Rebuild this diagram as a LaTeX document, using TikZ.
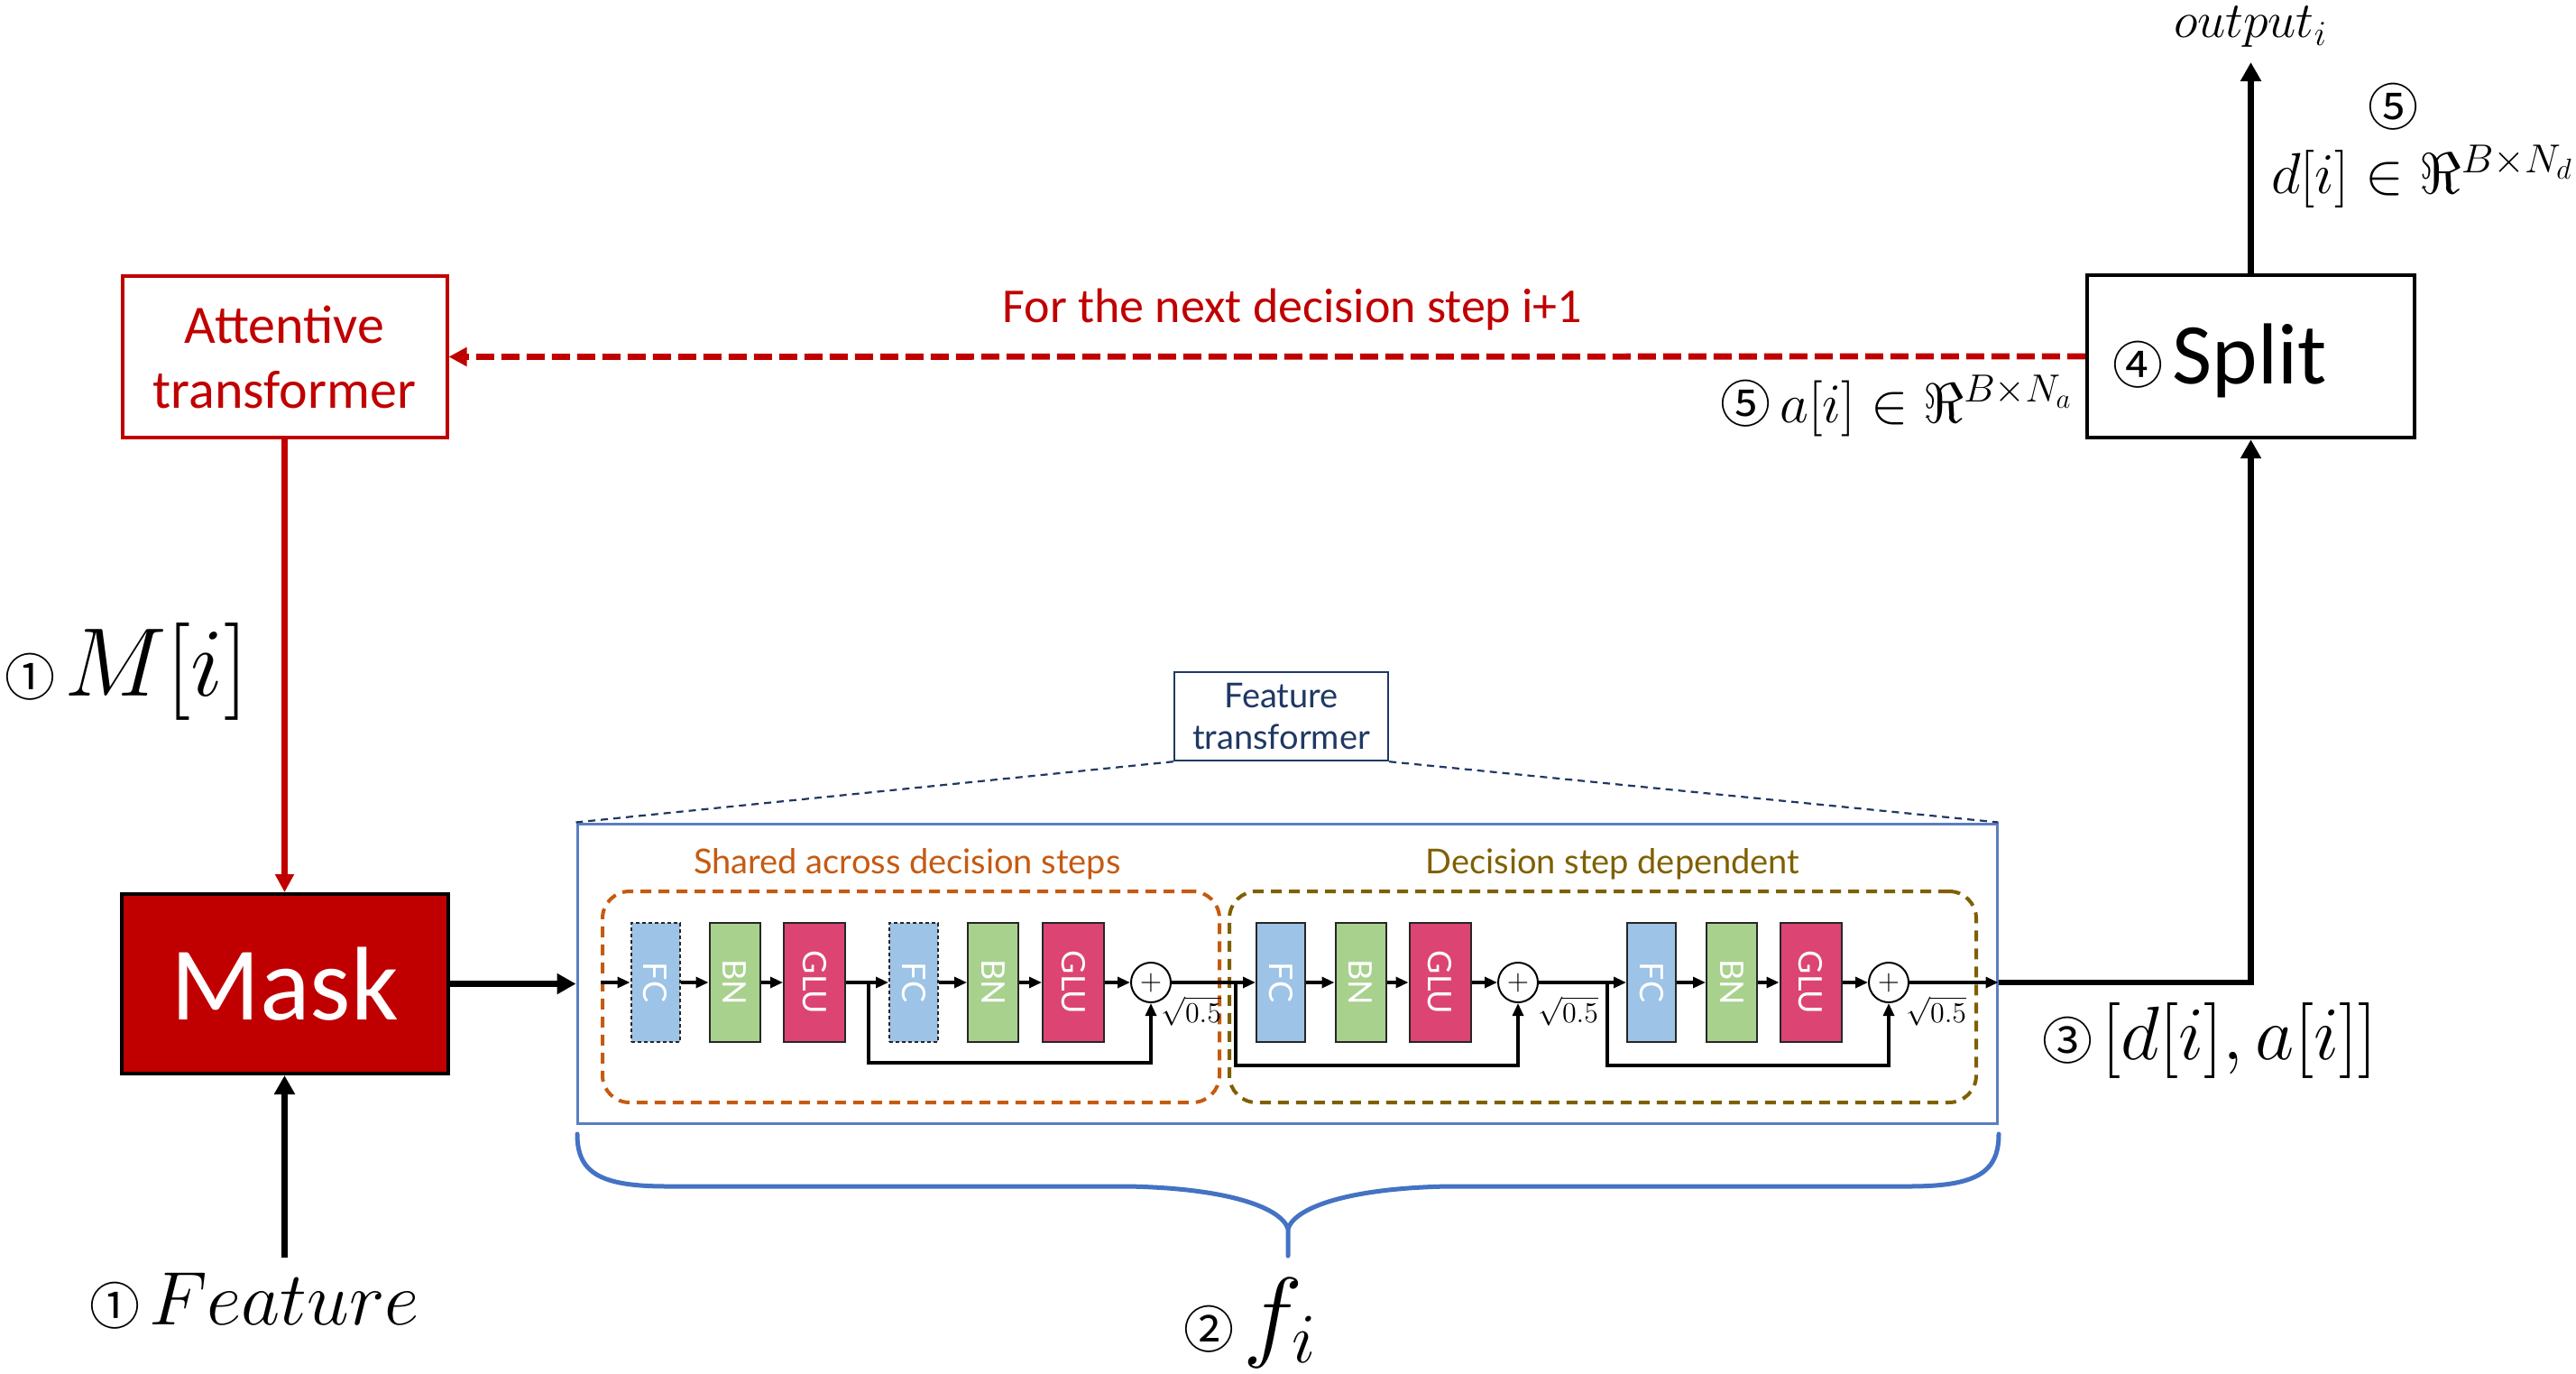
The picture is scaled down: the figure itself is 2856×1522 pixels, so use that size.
\documentclass[tikz,border=0pt]{standalone}
\usepackage{fix-cm}
\usepackage[no-math]{fontspec}
\usepackage{graphicx}
\setmainfont{Carlito}
\newfontfamily\lato{Lato}
\newfontfamily\cjk{Noto Sans CJK SC}
\usetikzlibrary{arrows.meta}
\definecolor{redz}{HTML}{C00000}
\definecolor{orng}{HTML}{C55A11}
\definecolor{olv}{HTML}{7F6000}
\definecolor{navy}{HTML}{1F3864}
\definecolor{ftblue}{HTML}{5A7EC0}
\definecolor{brc}{HTML}{4472C4}
\definecolor{fcc}{HTML}{9DC3E6}
\definecolor{bnc}{HTML}{A9D18E}
\definecolor{gluc}{HTML}{DC4473}
\newcommand{\cn}[1]{{\fontsize{28}{28}\cjk #1}}
\begin{document}
\begin{tikzpicture}[x=0.5pt,y=-0.5pt,
  bigtip/.style={-{Triangle[length=10.5pt,width=11pt]}},
  thk/.style={line width=3.4pt},
  thn/.style={line width=1.6pt,-{Triangle[length=7pt,width=6pt]}},
  blk/.style={draw=black!85,line width=1pt,minimum height=66pt,inner sep=0pt,text=white,font=\lato\fontsize{18}{18}\selectfont},
  fcb/.style={blk,fill=fcc,minimum width=27pt},
  bnb/.style={blk,fill=bnc,minimum width=28pt},
  glub/.style={blk,fill=gluc,minimum width=34pt},
  plus/.style={circle,draw,line width=1pt,minimum size=22pt,inner sep=0pt,font=\fontsize{16}{16}\selectfont},
  sq/.style={inner sep=0pt,anchor=west,font=\fontsize{16}{16}\selectfont},
  grp/.style={draw,line width=2pt,dash pattern=on 6pt off 4pt,rounded corners=15pt,minimum height=117pt,inner sep=0pt},
]
\useasboundingbox (0,0) rectangle (2856,1522);

% main boxes
\node[draw=redz,line width=2pt,minimum width=180pt,minimum height=89.5pt,inner sep=0pt,
      text=redz,align=center,font=\fontsize{30}{36}\selectfont] (att) at (315.5,395.5) {Attentive\\transformer};
\node[draw=black,fill=redz,line width=2pt,minimum width=181pt,minimum height=99.5pt,inner sep=0pt,
      text=white,font=\fontsize{58}{58}\selectfont] (mask) at (315.5,1090.5) {Mask};
\node[draw=black,line width=2.2pt,minimum width=181.5pt,minimum height=90pt,inner sep=0pt] (split) at (2495.5,395) {};
\node[inner sep=0pt] (splitl) at (2461,400) {\cn{④}\hspace{5pt}{\fontsize{48}{48}\selectfont Split}};

% feature transformer
\node[draw=ftblue,line width=1.5pt,minimum width=787pt,minimum height=166pt,inner sep=0pt] (ft) at (1427,1079) {};
\node[draw=navy,line width=1.2pt,minimum width=118.5pt,minimum height=49pt,inner sep=0pt,text=navy,
      align=center,font=\lato\fontsize{19}{23}\selectfont] (ftl) at (1420.5,794) {Feature\\transformer};
\draw[navy,line width=1.1pt,dash pattern=on 4pt off 3pt] (ftl.south west) -- (ft.north west);
\draw[navy,line width=1.1pt,dash pattern=on 4pt off 3pt] (ftl.south east) -- (ft.north east);

\node[grp,draw=orng,minimum width=342pt] (sh) at (1010,1105) {};
\node[grp,draw=olv,minimum width=414pt] (dd) at (1777,1105) {};
\node[text=orng,font=\lato\fontsize{19}{19}\selectfont] (shl) at (1006,958) {Shared across decision steps};
\node[text=olv,font=\lato\fontsize{19}{19}\selectfont] (ddl) at (1788,958) {Decision step dependent};

% blocks
\node[fcb,dash pattern=on 2pt off 1.5pt] (fc1) at (726.5,1089) {\rotatebox{-90}{FC}};
\node[bnb] (bn1) at (814.5,1089) {\rotatebox{-90}{BN}};
\node[glub] (glu1) at (903,1089) {\rotatebox{-90}{GLU}};
\node[fcb,dash pattern=on 2pt off 1.5pt] (fc2) at (1013,1089) {\rotatebox{-90}{FC}};
\node[bnb] (bn2) at (1101,1089) {\rotatebox{-90}{BN}};
\node[glub] (glu2) at (1190,1089) {\rotatebox{-90}{GLU}};
\node[plus] (p1) at (1276,1089) {$+$};
\node[fcb] (fc3) at (1420,1089) {\rotatebox{-90}{FC}};
\node[bnb] (bn3) at (1508.5,1089) {\rotatebox{-90}{BN}};
\node[glub] (glu3) at (1596.5,1089) {\rotatebox{-90}{GLU}};
\node[plus] (p3) at (1683,1089) {$+$};
\node[fcb] (fc4) at (1831,1089) {\rotatebox{-90}{FC}};
\node[bnb] (bn4) at (1920,1089) {\rotatebox{-90}{BN}};
\node[glub] (glu4) at (2007.5,1089) {\rotatebox{-90}{GLU}};
\node[plus] (p4) at (2094,1089) {$+$};
\node[sq] (q1) at (1287,1121) {$\sqrt{0.5}$};
\node[sq] (q3) at (1705,1121) {$\sqrt{0.5}$};
\node[sq] (q4) at (2113,1121) {$\sqrt{0.5}$};

% chain
\draw[thn] (sh.west |- fc1) -- (fc1);
\draw[thn] (fc1) -- (bn1);
\draw[thn] (bn1) -- (glu1);
\draw[thn] (glu1) -- (fc2);
\draw[thn] (fc2) -- (bn2);
\draw[thn] (bn2) -- (glu2);
\draw[thn] (glu2) -- (p1);
\draw[thn] (p1) -- (fc3);
\draw[thn] (fc3) -- (bn3);
\draw[thn] (bn3) -- (glu3);
\draw[thn] (glu3) -- (p3);
\draw[thn] (p3) -- (fc4);
\draw[thn] (fc4) -- (bn4);
\draw[thn] (bn4) -- (glu4);
\draw[thn] (glu4) -- (p4);
\draw[thn] (p4) -- (ft.east |- p4);
% skips
\coordinate (s1) at (963,1089);
\coordinate (s3) at (1370,1089);
\coordinate (s4) at (1782,1089);
\draw[thn] (s1) -- ++(0,89) -| (p1.south);
\draw[thn] (s3) -- ++(0,92) -| (p3.south);
\draw[thn] (s4) -- ++(0,92) -| (p4.south);

% outer connectors
\draw[thk,bigtip] (mask.east) -- (ft.west |- mask.east);
\draw[thk,redz,-{Triangle[length=10pt,width=10pt]}] (att.south) -- (mask.north);
\coordinate (fin) at (315.5,1394);
\draw[thk,bigtip] (fin) -- (mask.south);
\draw[thk,bigtip] (ft.east |- p4) -| (split.south);
\coordinate (outc) at (2495.5,69);
\draw[thk,bigtip] (split.north) -- (outc);
\draw[redz,line width=3.4pt,dash pattern=on 10pt off 4pt,-{Triangle[length=10pt,width=10pt]}] (split.west) -- (att.east);

% brace
\draw[brc,line width=2.5pt,line cap=round]
  (640,1257) .. controls (640,1300) and (665,1315) .. (740,1315) -- (1250,1315)
  .. controls (1360,1317) and (1420,1338) .. (1428,1362) -- (1428,1392);
\draw[brc,line width=2.5pt,line cap=round]
  (2216,1257) .. controls (2216,1300) and (2191,1315) .. (2116,1315) -- (1606,1315)
  .. controls (1496,1317) and (1436,1338) .. (1428,1362);

% labels
\node[text=redz,font=\fontsize{27}{27}\selectfont] (nxt) at (1433,343) {For the next decision step i+1};
\node[anchor=east,inner sep=0pt] (al) at (2298,450) {\cn{⑤}\hspace{5pt}{\fontsize{31}{31}\selectfont $a[i]\in\Re^{B\times N_a}$}};
\node[inner sep=0pt] (outl) at (2495,30) {\fontsize{28}{28}\selectfont $output_i$};
\node[inner sep=0pt] (c5) at (2653,118) {\cn{⑤}};
\node[anchor=west,inner sep=0pt] (dl) at (2518,196) {\fontsize{32}{32}\selectfont $d[i]\in\Re^{B\times N_d}$};
\node[anchor=west,inner sep=0pt] (ml) at (5,744) {\cn{①}\hspace{5pt}{\fontsize{54}{54}\selectfont $M[i]$}};
\node[inner sep=0pt] (fl) at (282,1442) {\cn{①}\hspace{5pt}{\fontsize{42}{42}\selectfont $Feature$}};
\node[inner sep=0pt] (fil) at (1386,1466) {\cn{②}\hspace{5pt}{\fontsize{56}{56}\selectfont $f_i$}};
\node[anchor=west,inner sep=0pt] (dal) at (2264,1153) {\cn{③}\hspace{5pt}{\fontsize{42}{42}\selectfont $[d[i],a[i]]$}};
\end{tikzpicture}
\end{document}
